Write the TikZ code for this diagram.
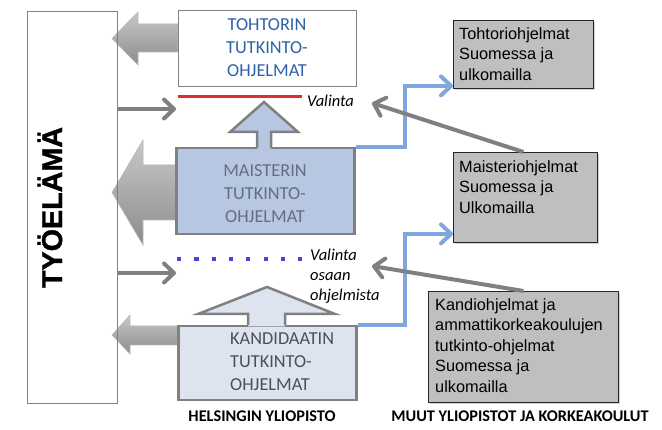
\documentclass[tikz,border=0pt]{standalone}
\usepackage{fontspec}
\setmainfont{Carlito}
\newfontfamily\arialf{Liberation Sans}
\newfontfamily\arialbold{Liberation Sans Bold}[FakeBold=1.2]
\newfontfamily\carlbold{Carlito Bold}
\newfontfamily\carlit{Carlito Italic}
\usetikzlibrary{arrows.meta,shadows}
\definecolor{boxgray}{RGB}{128,128,128}
\definecolor{maifill}{RGB}{183,199,225}
\definecolor{kanfill}{RGB}{221,228,239}
\definecolor{maitext}{RGB}{100,110,125}
\definecolor{kantext}{RGB}{75,80,90}
\definecolor{tohblue}{RGB}{46,98,168}
\definecolor{rfill}{RGB}{191,191,191}
\definecolor{connblue}{RGB}{127,167,222}
\definecolor{conngray}{RGB}{128,128,128}
\definecolor{redl}{RGB}{225,45,45}
\definecolor{dotb}{RGB}{70,70,220}
\definecolor{arrtop}{RGB}{200,200,198}
\definecolor{arrbot}{RGB}{140,140,138}
\begin{document}
\begin{tikzpicture}[x=1pt,y=-1pt,
  bigarrow/.style={top color=arrtop,bottom color=arrbot,draw=gray!55,line width=0.6pt},
  lbox/.style={draw=boxgray,anchor=north west,inner sep=0pt,minimum width=178pt},
  rbox/.style={draw=black!85,fill=rfill,line width=0.9pt,anchor=north west,inner sep=0pt,
     drop shadow={shadow xshift=1.2pt,shadow yshift=-1.5pt,opacity=0.35}},
  rtext/.style={font=\arialf\fontsize{16.3}{20.5}\selectfont,align=left,anchor=north west,inner sep=0pt},
  ltext/.style={font=\fontsize{18.3}{23}\selectfont,align=center,anchor=north,inner sep=0pt},
  vtext/.style={font=\carlit\fontsize{16.5}{20}\selectfont,align=left,inner sep=0pt},
  btext/.style={font=\carlbold\fontsize{16.3}{20}\selectfont,anchor=base,inner sep=0pt},
  grayconn/.style={draw=conngray,line width=4pt,-{Straight Barb[length=10pt,width=19pt,round]}},
  blueconn/.style={draw=connblue,line width=4pt,-{Straight Barb[length=10pt,width=19pt,round]}},
  uparrow/.style={draw=boxgray,line width=2.5pt,line join=miter}
]
\useasboundingbox (0,0) rectangle (662,430);
\fill[white] (0,0) rectangle (662,430);

% big gray arrows to the left
\path[bigarrow] (178,24) -- (138,24) -- (138,12) -- (112,38.5) -- (138,65) -- (138,52) -- (178,52) -- cycle;
\path[bigarrow] (176,165) -- (143,165) -- (143,140) -- (112,192.5) -- (143,245) -- (143,220) -- (176,220) -- cycle;
\path[bigarrow] (178,326) -- (130,326) -- (130,315) -- (112,335) -- (130,354) -- (130,345) -- (178,345) -- cycle;

% working life box
\node[draw=boxgray,line width=0.9pt,anchor=north west,inner sep=0pt,minimum width=90pt,minimum height=392pt] (ty) at (27,11) {};
\node[rotate=90,anchor=base,inner sep=0pt,font=\arialbold\fontsize{28.7}{30}\selectfont] (tyt) at (62,207.5) {TYÖELÄMÄ};

% left boxes
\node[lbox,fill=white,line width=0.9pt,minimum height=76pt] (toh) at (178,10) {};
\node[ltext,text=tohblue] (toht) at (267,18.5) {TOHTORIN\\TUTKINTO-\\OHJELMAT};

\node[lbox,fill=maifill,line width=2.5pt,minimum height=86pt] (mai) at (175,147) {};
\node[ltext,text=maitext] (mait) at (265,164.5) {MAISTERIN\\TUTKINTO-\\OHJELMAT};

\node[lbox,fill=kanfill,line width=2.5pt,minimum height=74pt] (kan) at (177,325) {};
\node[ltext,align=left,anchor=north west,text=kantext] (kant) at (230,332.5) {KANDIDAATIN\\TUTKINTO-\\OHJELMAT};

% up arrows
\fill[maifill] (257,149.3) -- (257,132) -- (230,132) -- (264,102) -- (298,132) -- (271,132) -- (271,149.3) -- cycle;
\draw[uparrow] (257,148) -- (257,132) -- (230,132) -- (264,102) -- (298,132) -- (271,132) -- (271,148);
\fill[kanfill] (248,326.3) -- (248,314) -- (198,314) -- (267,287) -- (335,314) -- (285,314) -- (285,326.3) -- cycle;
\draw[uparrow] (248,325) -- (248,314) -- (198,314) -- (267,287) -- (335,314) -- (285,314) -- (285,325);

% selection lines
\coordinate (rl1) at (178,97);
\coordinate (rl2) at (302,97);
\draw[redl,line width=3pt] (rl1) -- (rl2);
\coordinate (dl1) at (177,259);
\coordinate (dl2) at (303,259);
\draw[dotb,line width=4.2pt,dash pattern=on 4.2pt off 13.1pt] (dl1) -- (dl2);
\node[vtext,anchor=base west] (v1) at (307,107) {Valinta};
\node[vtext,anchor=north west] (v2) at (310,249) {Valinta\\osaan\\ohjelmista};

% right boxes
\node[rbox,minimum width=140pt,minimum height=68pt] (r1) at (453,20) {};
\node[rtext] (r1t) at (459,27) {Tohtoriohjelmat\\Suomessa ja\\ulkomailla};
\node[rbox,minimum width=144pt,minimum height=90pt] (r2) at (453,152) {};
\node[rtext] (r2t) at (459,160) {Maisteriohjelmat\\Suomessa ja\\Ulkomailla};
\node[rbox,minimum width=190pt,minimum height=111pt] (r3) at (428,291) {};
\node[rtext] (r3t) at (435,298) {Kandiohjelmat ja\\ammattikorkeakoulujen\\tutkinto-ohjelmat\\Suomessa ja\\ulkomailla};

% bottom labels
\node[btext] (hy) at (262,422) {HELSINGIN YLIOPISTO};
\node[btext] (mu) at (520,422) {MUUT YLIOPISTOT JA KORKEAKOULUT};

% thin gray arrows from working life
\coordinate (a1) at (176,109);
\coordinate (a2) at (176,273);
\draw[grayconn] (a1 -| ty.east) -- (a1);
\draw[grayconn] (a2 -| ty.east) -- (a2);

% blue connectors
\draw[blueconn,line join=miter] (mai.north east) -- ++(49,0) |- ([yshift=3pt]r1.south west);
\draw[blueconn,line join=miter] (kan.north east) -- ++(47,0) |- ([yshift=9pt]r2.south west);

% gray connectors
\coordinate (e1) at (372,103);
\coordinate (e2) at (372,266);
\draw[grayconn] ([xshift=-2pt]r2.north) -- (e1);
\draw[grayconn] (r3.north) -- (e2);
\end{tikzpicture}
\end{document}
